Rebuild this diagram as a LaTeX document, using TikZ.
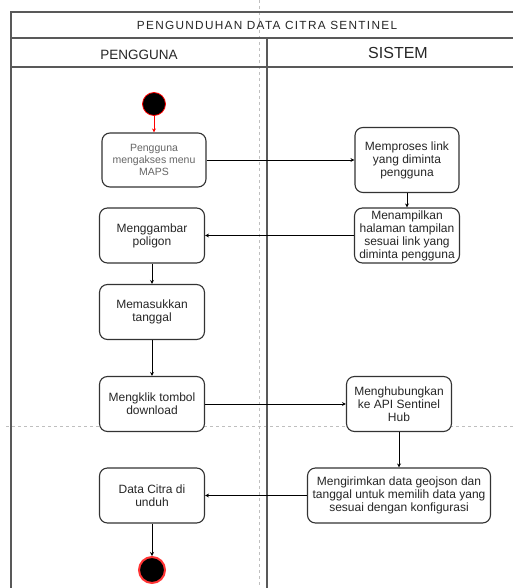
\documentclass[tikz,border=0pt]{standalone}
\usepackage{fontspec}
\setmainfont{Liberation Sans}
\newfontfamily\ttlfont[LetterSpace=11]{Liberation Sans}
\usetikzlibrary{arrows.meta}

\begin{document}
\begin{tikzpicture}[x=1pt,y=-1pt,
  act/.style={rectangle,rounded corners=8pt,draw=black!80,fill=white,line width=1.1pt,minimum width=105pt,minimum height=55pt,inner sep=2pt,align=center,font=\fontsize{12}{13}\selectfont,text=black!85},
  ini/.style={circle,fill=black,draw=red,line width=0.8pt,minimum size=23pt,inner sep=0pt},
  fin/.style={circle,fill=black,draw=red!80,line width=2pt,minimum size=26pt,inner sep=0pt},
  ar/.style={-{Stealth[length=4pt,width=4pt]},line width=0.8pt},
  lane/.style={draw=black!65,line width=1.5pt},
  guide/.style={draw=black!25,dashed,line width=0.6pt}]
 \useasboundingbox (0,0) rectangle (513,588);
 % swimlanes
 \draw[guide] (259.5,0) -- (259.5,588);
 \draw[guide] (6,426) -- (513,426);
 \draw[lane] (11,588) |- (513,12);
 \draw[lane] (11,38) -- (513,38);
 \draw[lane] (11,67) -- (513,67);
 \draw[lane] (267,38) -- (267,588);
 \node[font={\fontsize{11.8}{13}\ttlfont},text=black!85] (ttl) at (267,25.5) {PENGUNDUHAN DATA CITRA SENTINEL};
 \node[font=\fontsize{13.5}{15}\selectfont,text=black!85] (usr) at (139,54.5) {PENGGUNA};
 \node[font=\fontsize{16}{18}\selectfont,text=black!85] (sys) at (398,53) {SISTEM};
 % activities
 \node[ini] (s) at (154,104) {};
 \node[act,minimum width=104pt,minimum height=54pt,font=\fontsize{10.5}{12}\selectfont,text=black!60] (a1) at (154,160) {Pengguna\\mengakses menu\\MAPS};
 \node[act,minimum width=104pt,minimum height=65pt] (a2) at (407,160) {Memproses link\\yang diminta\\pengguna};
 \node[act] (a3) at (407,235.5) {Menampilkan\\halaman tampilan\\sesuai link yang\\diminta pengguna};
 \node[act] (a4) at (152,235.5) {Menggambar\\poligon};
 \node[act] (a5) at (152,312) {Memasukkan\\tanggal};
 \node[act] (a6) at (152,404) {Mengklik tombol\\download};
 \node[act] (a7) at (399,404) {Menghubungkan\\ke API Sentinel\\Hub};
 \node[act,minimum width=183pt] (a8) at (399,495.5) {Mengirimkan data geojson dan\\tanggal untuk memilih data yang\\sesuai dengan konfigurasi};
 \node[act] (a9) at (152,495.5) {Data Citra di\\unduh};
 \node[fin] (e) at (152,570) {};
 % flow
 \draw[ar,red] (s) -- (a1);
 \draw[ar] (a1) -- (a2);
 \draw[ar] (a2) -- (a3);
 \draw[ar] (a3) -- (a4);
 \draw[ar] (a4) -- (a5);
 \draw[ar] (a5) -- (a6);
 \draw[ar] (a6) -- (a7);
 \draw[ar] (a7) -- (a8);
 \draw[ar] (a8) -- (a9);
 \draw[ar] (a9) -- (e);
\end{tikzpicture}
\end{document}
